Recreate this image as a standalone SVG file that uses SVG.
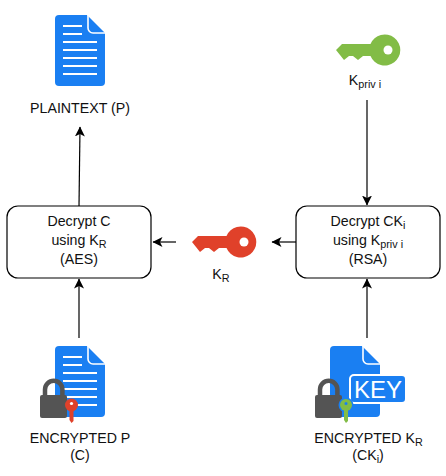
<svg xmlns="http://www.w3.org/2000/svg" width="446" height="476" viewBox="0 0 446 476">
<style>
text{font-family:"Liberation Sans",Arial,sans-serif;font-size:14.2px;fill:#111;text-anchor:middle}
tspan.s{font-size:10.8px}
.box{fill:#fff;stroke:#000;stroke-width:1.2}
.c{fill:none;stroke:#000;stroke-width:1.2;marker-end:url(#a)}
.w{stroke:#fff;stroke-width:2;fill:none}
.l{fill:#545454}
</style>
<defs>
<marker id="a" markerWidth="12" markerHeight="12" refX="9.5" refY="5" orient="auto" markerUnits="userSpaceOnUse" viewBox="0 0 12 10"><path d="M0 0L10 5L0 10L2.5 5Z" fill="#000"/></marker>
<g id="page">
<path d="M59 0H87L105 18V67a4 4 0 0 1-4 4H59a4 4 0 0 1-4-4V4a4 4 0 0 1 4-4Z" fill="#1a7ff2"/>
<path d="M88 0V13a5 5 0 0 0 5 5H105" stroke="#fff" stroke-width="1.6" fill="none"/>
</g>
<g id="doc">
<use href="#page"/>
<path d="M63 11H82M63 19H82M63 27H97M63 35H97M63 43H97M63 51H97M63 59H97" class="w"/>
</g>
<g id="lock">
<rect x="0" y="18" width="27" height="23" rx="2" class="l"/>
<path d="M5 20V12.5a8.7 8.7 0 0 1 17.4 0V20" fill="none" stroke="#545454" stroke-width="4.5"/>
</g>
<path id="key" d="M0 15L6 9H34.5A15.5 15.5 0 1 1 34.5 21L27 21L22 25L17 21L13 21L8 25L4 20Z"/>
</defs>
<g id="connectors">
<path class="c" d="M79 206L80 127"/>
<path class="c" d="M79 338V279"/>
<path class="c" d="M367 100V205"/>
<path class="c" d="M367 338V279"/>
<path class="c" d="M296 242H272"/>
<path class="c" d="M176 242H153"/>
</g>
<g id="plaintext">
<use href="#doc" y="15"/>
<text x="80" y="113">PLAINTEXT (P)</text>
</g>
<g id="kpriv">
<use href="#key" x="336" y="35" fill="#82bc46"/>
<circle cx="388" cy="50" r="4.5" fill="#fff"/>
<text x="365" y="85">K<tspan class="s" dy="3">priv i</tspan></text>
</g>
<g id="decrypt-c">
<rect class="box" x="7" y="206" width="144" height="72" rx="11"/>
<text x="79" y="226">Decrypt C</text>
<text x="79" y="245">using K<tspan class="s" dy="3">R</tspan></text>
<text x="79" y="264">(AES)</text>
</g>
<g id="kr">
<use href="#key" x="192" y="227" fill="#e0412a"/>
<circle cx="244" cy="242" r="4.5" fill="#fff"/>
<text x="221" y="279">K<tspan class="s" dy="3">R</tspan></text>
</g>
<g id="decrypt-ck">
<rect class="box" x="296" y="206" width="144" height="72" rx="11"/>
<text x="368" y="226">Decrypt CK<tspan class="s" dy="3">i</tspan></text>
<text x="368" y="245">using K<tspan class="s" dy="3">priv i</tspan></text>
<text x="368" y="264">(RSA)</text>
</g>
<g id="encrypted-p">
<use href="#doc" y="346"/>
<use href="#lock" x="40" y="377"/>
<circle cx="71.5" cy="405" r="6.5" fill="#e0412a"/>
<circle cx="71.5" cy="403.5" r="1.6" fill="#fff"/>
<path d="M69.5 410H73.5V421L71.5 423L69.5 420Z" fill="#e0412a"/>
<text x="80" y="443">ENCRYPTED P</text>
<text x="80" y="460">(C)</text>
</g>
<g id="encrypted-kr">
<use href="#page" x="275" y="346"/>
<rect x="350" y="375" width="56" height="28" rx="4" fill="#1a7ff2" stroke="#fff" stroke-width="2"/>
<text x="378" y="398" style="font-size:24px;fill:#fff">KEY</text>
<use href="#lock" x="315" y="377"/>
<circle cx="346" cy="405" r="7.5" fill="#1a7ff2"/>
<circle cx="346" cy="405" r="6" fill="#82bc46"/>
<circle cx="346" cy="403.5" r="1.5" fill="#1a7ff2"/>
<path d="M344 410H348V421L346 423L344 420Z" fill="#82bc46"/>
<text x="368.5" y="443">ENCRYPTED K<tspan class="s" dy="3">R</tspan></text>
<text x="368" y="460">(CK<tspan class="s" dy="3">i</tspan><tspan dy="-3">)</tspan></text>
</g>
</svg>
